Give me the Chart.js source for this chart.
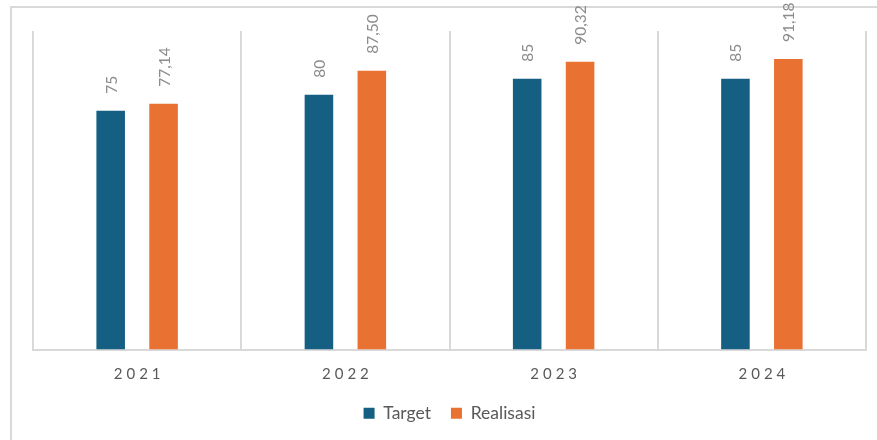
<!DOCTYPE html>
<html>
<head>
<meta charset="utf-8">
<script src="https://cdn.jsdelivr.net/npm/chart.js@4/dist/chart.umd.min.js"></script>
<style>
  html, body { margin: 0; padding: 0; background: #ffffff; }
  #wrap { position: relative; width: 877px; height: 440px; }
</style>
</head>
<body>
<div id="wrap"><canvas id="chart" width="877" height="440"></canvas></div>
<script>
// Capaian: target vs realisasi per tahun
const years = ['2021', '2022', '2023', '2024'];
const targetValues = [75, 80, 85, 85];
const realisasiValues = [77.14, 87.50, 90.32, 91.18];
const seriesNames = ['Target', 'Realisasi'];
const labelDecimals = [0, 2];

const FONT = 'Lato, "Open Sans", "Liberation Sans", sans-serif';

function formatValue(v, decimals) {
  return v.toFixed(decimals).replace('.', ',');
}

// light frame along the top and left edge
const framePlugin = {
  id: 'frame',
  beforeDraw(chart) {
    const ctx = chart.ctx;
    ctx.save();
    ctx.strokeStyle = '#d9d9d9';
    ctx.lineWidth = 2;
    ctx.beginPath();
    ctx.moveTo(11, chart.height);
    ctx.lineTo(11, 7);
    ctx.lineTo(chart.width, 7);
    ctx.stroke();
    ctx.restore();
  }
};

// spaced-out year labels on the category axis
const spacedTicksPlugin = {
  id: 'spacedTicks',
  afterLayout(chart) {
    const scale = chart.scales.x;
    if (scale._spacedPatched) return;
    const orig = scale.drawLabels;
    scale.drawLabels = function (area) {
      const ctx = this.ctx;
      ctx.save();
      ctx.letterSpacing = '4px';
      ctx.translate(2, 0);
      orig.call(this, area);
      ctx.restore();
    };
    scale._spacedPatched = true;
  }
};

// rotated value labels above each bar
const valueLabelPlugin = {
  id: 'valueLabels',
  afterDatasetsDraw(chart) {
    const ctx = chart.ctx;
    ctx.save();
    ctx.fillStyle = '#8c8c8c';
    ctx.font = '15.5px ' + FONT;
    ctx.textAlign = 'left';
    ctx.textBaseline = 'middle';
    chart.data.datasets.forEach((ds, di) => {
      const meta = chart.getDatasetMeta(di);
      meta.data.forEach((bar, i) => {
        const text = formatValue(ds.data[i], labelDecimals[di]);
        ctx.save();
        ctx.translate(bar.x + 1, bar.y - 17);
        ctx.rotate(-Math.PI / 2);
        ctx.fillText(text, 0, 0);
        ctx.restore();
      });
    });
    ctx.restore();
  }
};

new Chart(document.getElementById('chart'), {
  type: 'bar',
  data: {
    labels: years,
    datasets: [
      {
        label: seriesNames[0],
        data: targetValues,
        backgroundColor: '#156082',
        categoryPercentage: 0.508,
        barPercentage: 0.54
      },
      {
        label: seriesNames[1],
        data: realisasiValues,
        backgroundColor: '#E97132',
        categoryPercentage: 0.508,
        barPercentage: 0.54
      }
    ]
  },
  options: {
    responsive: false,
    animation: false,
    layout: { padding: { top: 31, left: 33, right: 11, bottom: 8 } },
    plugins: {
      legend: {
        position: 'bottom',
        labels: {
          boxWidth: 11,
          boxHeight: 11,
          padding: 20,
          color: '#595959',
          font: { size: 17.5, family: FONT }
        }
      },
      tooltip: { enabled: false }
    },
    scales: {
      x: {
        afterFit(scale) { scale.height = 35; },
        grid: {
          color: '#d9d9d9',
          lineWidth: 2,
          drawTicks: false,
          offset: true
        },
        border: { color: '#d9d9d9', width: 2 },
        ticks: {
          padding: 16,
          color: '#595959',
          font: { size: 15, family: FONT }
        }
      },
      y: {
        display: false,
        min: 0,
        max: 100
      }
    }
  },
  plugins: [framePlugin, spacedTicksPlugin, valueLabelPlugin]
});
</script>
</body>
</html>
